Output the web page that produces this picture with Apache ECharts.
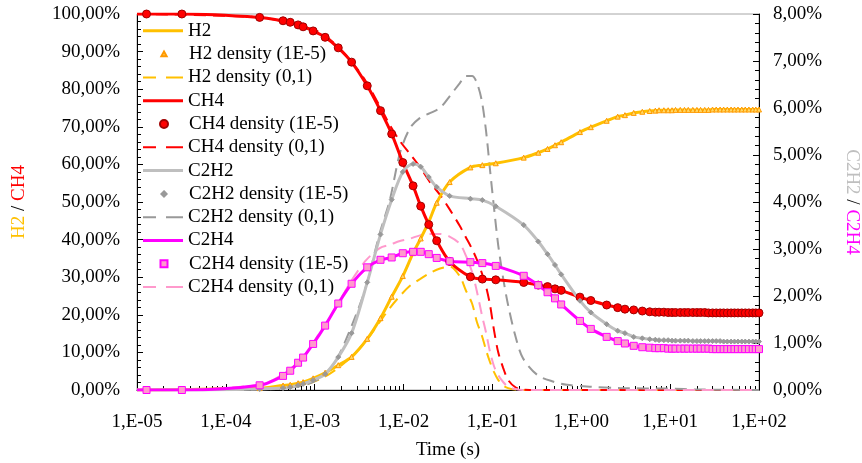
<!DOCTYPE html>
<html>
<head>
<meta charset="utf-8">
<script src="https://cdn.jsdelivr.net/npm/echarts@6/dist/echarts.min.js"></script>
<style>
html, body { margin: 0; padding: 0; background: #fff; }
#chart { width: 862px; height: 463px; }
</style>
</head>
<body>
<div id="chart"></div>
<script>
// time points of the 1E-5 run (s)
var times = [1e-5, 1.28e-5, 3.2e-5, 2.4e-4, 4.4e-4, 5.3e-4, 6.5e-4, 7.4e-4, 9.6e-4, 1.31e-3,
  1.84e-3, 2.6e-3, 3.9e-3, 5.5e-3, 7.35e-3, 9.8e-3, 1.28e-2, 1.56e-2, 1.92e-2, 2.36e-2,
  3.3e-2, 5.65e-2, 7.7e-2, 0.109, 0.225, 0.328, 0.417, 0.506, 0.594, 0.966,
  1.28, 1.93, 2.57, 3.1, 3.89, 4.86, 5.89, 6.81,
  7.5, 8.5, 9.5, 10.5, 11.5, 13, 14.5, 16, 18, 20, 22, 24.5, 27, 30, 33, 36.5, 40, 44, 48.5,
  53, 58, 64, 70, 77, 85, 92, 100];
// left axis (%)
var h2 = [0, 0, 0.1, 0.5, 1.2, 1.4, 1.8, 2.1, 3.1, 4.6,
  6.6, 8.8, 13.6, 19.1, 24.8, 30.3, 36.4, 40.3, 44.7, 49.8,
  55.3, 59.2, 59.8, 60.3, 61.8, 63.1, 64.1, 65.1, 65.9, 68.6,
  69.9, 71.6, 72.7, 73.1, 73.7, 74.0, 74.2, 74.3,
  74.4, 74.4, 74.4, 74.4, 74.5, 74.5, 74.5, 74.5, 74.5, 74.5, 74.5, 74.5, 74.5, 74.6, 74.6, 74.6, 74.6, 74.6, 74.6,
  74.6, 74.6, 74.6, 74.6, 74.6, 74.6, 74.6, 74.6];
var ch4 = [100, 100, 100, 99.1, 98.2, 97.8, 97.1, 96.6, 95.5, 93.8,
  91.0, 87.2, 80.9, 74.3, 68.1, 60.5, 54.3, 48.9, 44.0, 39.7,
  34.2, 30.1, 29.5, 29.3, 28.6, 27.9, 27.5, 26.9, 26.5, 24.7,
  23.8, 22.6, 21.9, 21.5, 21.3, 21.0, 20.8, 20.7,
  20.7, 20.7, 20.6, 20.6, 20.6, 20.6, 20.6, 20.6, 20.6, 20.6, 20.6, 20.6, 20.5, 20.5, 20.5, 20.5, 20.5, 20.5, 20.5,
  20.5, 20.5, 20.5, 20.5, 20.5, 20.5, 20.5, 20.5];
// right axis (%)
var c2h2 = [0, 0, 0, 0.02, 0.04, 0.06, 0.10, 0.13, 0.21, 0.34,
  0.70, 1.21, 2.29, 3.31, 4.05, 4.64, 4.81, 4.75, 4.53, 4.32,
  4.13, 4.07, 4.04, 3.91, 3.51, 3.16, 2.89, 2.66, 2.46, 1.90,
  1.65, 1.40, 1.26, 1.21, 1.13, 1.10, 1.08, 1.07,
  1.06, 1.06, 1.06, 1.05, 1.05, 1.05, 1.05, 1.05, 1.04, 1.04, 1.04, 1.04, 1.04, 1.04, 1.04, 1.04, 1.03, 1.03, 1.03,
  1.03, 1.03, 1.03, 1.03, 1.03, 1.03, 1.03, 1.03];
var c2h4 = [0, 0, 0, 0.10, 0.30, 0.41, 0.58, 0.69, 0.98, 1.37,
  1.84, 2.26, 2.61, 2.77, 2.82, 2.91, 2.94, 2.94, 2.89, 2.81,
  2.74, 2.72, 2.70, 2.64, 2.43, 2.23, 2.08, 1.95, 1.82, 1.47,
  1.30, 1.13, 1.04, 0.99, 0.94, 0.91, 0.90, 0.89,
  0.89, 0.89, 0.88, 0.88, 0.88, 0.88, 0.88, 0.88, 0.88, 0.88, 0.88, 0.88, 0.88, 0.87, 0.87, 0.87, 0.87, 0.87, 0.87,
  0.87, 0.87, 0.87, 0.87, 0.87, 0.87, 0.87, 0.87];

// (0,1) run
var timesCoarse = [1e-5, 2.4e-4, 6.8e-4, 1.15e-3, 1.7e-3, 2.5e-3, 3.7e-3, 5.4e-3, 7e-3, 9.1e-3,
  1.18e-2, 1.53e-2, 1.98e-2, 2.57e-2, 3.33e-2, 4.3e-2, 5e-2, 5.9e-2, 6.7e-2, 7.6e-2,
  8.5e-2, 9.4e-2, 0.104, 0.116, 0.132, 0.15, 0.18, 0.22, 0.32, 0.48,
  0.69, 1.25, 2.7, 9.2, 22, 100];
var h2Coarse = [0, 0.3, 1.1, 2.9, 5.3, 8.5, 12.8, 18.1, 21.8, 25.0,
  27.7, 29.5, 31.1, 32.3, 32.8, 30.2, 26.6, 23.0, 18.0, 14.5,
  10.5, 7.4, 4.8, 2.7, 1.2, 0.5, 0.1, 0, 0, 0,
  0, 0, 0, 0, 0, 0];
var ch4Coarse = [100, 99.1, 96.9, 95.1, 92.0, 87.8, 82.4, 75.5, 70.5, 66.2,
  62.8, 59.3, 55.3, 51.9, 47.9, 43.6, 40.7, 37.5, 34.6, 31.1,
  27.4, 22.6, 16.0, 10.1, 5.9, 2.7, 0.8, 0.1, 0, 0,
  0, 0, 0, 0, 0, 0];
var c2h2Coarse = [0, 0.01, 0.08, 0.25, 0.60, 1.28, 2.15, 3.34, 4.04, 5.04,
  5.57, 5.79, 5.89, 6.0, 6.26, 6.53, 6.68, 6.68, 6.53, 6.15,
  5.49, 4.68, 3.89, 3.09, 2.38, 1.81, 1.17, 0.68, 0.32, 0.18,
  0.11, 0.07, 0.04, 0.03, 0.01, 0];
var c2h4Coarse = [0, 0.11, 0.62, 1.23, 1.72, 2.28, 2.74, 3.02, 3.09, 3.17,
  3.22, 3.29, 3.32, 3.32, 3.26, 3.11, 2.87, 2.51, 2.09, 1.60,
  1.21, 0.81, 0.51, 0.32, 0.17, 0.07, 0.02, 0, 0, 0,
  0, 0, 0, 0, 0, 0];

var legendNames = ["H2", "H2 density (1E-5)", "H2 density (0,1)",
  "CH4", "CH4 density (1E-5)", "CH4 density (0,1)",
  "C2H2", "C2H2 density (1E-5)", "C2H2 density (0,1)",
  "C2H4", "C2H4 density (1E-5)", "C2H4 density (0,1)"];

var FONT = "Liberation Serif";

// legend icons, drawn in a 40x14 box (the two leading moves fix the box)
var BOX = "path://M0,0M40,14";
var ICON_SOLID = BOX + "M0,5.5h40v3h-40z";
var ICON_DASH = BOX + "M0,6h13v2h-13zM23,6h17v2h-17z";
var legendIcons = [
  ICON_SOLID, BOX + "M20,4.5L22.6,9.2L17.4,9.2Z", ICON_DASH,
  ICON_SOLID, BOX + "M24,7A4,4,0,1,1,16,7A4,4,0,1,1,24,7Z", ICON_DASH,
  ICON_SOLID, BOX + "M20,4.4L22.6,7L20,9.6L17.4,7Z", ICON_DASH,
  ICON_SOLID, BOX + "M16.5,3.5h7v7h-7z", ICON_DASH
];

function pts(ts, vs) {
  return ts.map(function (t, i) { return [t, vs[i]]; });
}

function solid(name, vs, color, yIdx) {
  return {
    name: name, type: "line", yAxisIndex: yIdx, data: pts(times, vs),
    symbol: "none", smooth: 0.3, z: 3,
    lineStyle: { color: color, width: 3 }, itemStyle: { color: color }
  };
}
function dots(name, vs, symbol, size, fill, border, yIdx) {
  return {
    name: name, type: "scatter", yAxisIndex: yIdx, data: pts(times.slice(1), vs.slice(1)),
    symbol: symbol, symbolSize: size, clip: false, z: 4,
    itemStyle: { color: fill, borderColor: border, borderWidth: 1, opacity: 1 }
  };
}
function dashed(name, vs, color, yIdx) {
  return {
    name: name, type: "line", yAxisIndex: yIdx, data: pts(timesCoarse, vs),
    symbol: "none", smooth: 0.3, z: 2,
    lineStyle: { color: color, width: 2, type: [12, 7] }, itemStyle: { color: color }
  };
}

var legends = legendNames.map(function (n, i) {
  return {
    data: [{ name: n, icon: legendIcons[i] }],
    left: 143, top: 28.3 + i * 23.3 - 7, itemWidth: 40, itemHeight: 14,
    padding: 0, selectedMode: false,
    textStyle: { fontFamily: FONT, fontSize: 19, color: "#000" }
  };
});

function pct(v) { return v.toFixed(2).replace(".", ",") + "%"; }

var chart = echarts.init(document.getElementById("chart"));
chart.setOption({
  animation: false,
  backgroundColor: "#fff",
  legend: legends,
  grid: {
    left: 137, right: 103, top: 14, bottom: 73, outerBoundsMode: "none",
    show: true, borderColor: "#a6a6a6", borderWidth: 1
  },
  xAxis: {
    type: "log", logBase: 10, min: 1e-5, max: 100, splitNumber: 7,
    name: "Time (s)", nameLocation: "middle", nameGap: 51,
    nameTextStyle: { fontFamily: FONT, fontSize: 19, color: "#000" },
    axisLine: { lineStyle: { color: "#000", width: 1 } },
    axisTick: { inside: true, length: 6, lineStyle: { color: "#000" } },
    minorTick: { show: true, splitNumber: 9, length: 4, lineStyle: { color: "#000" } },
    splitLine: { show: false },
    axisLabel: {
      margin: 23, fontFamily: FONT, fontSize: 19, color: "#000",
      formatter: function (v) {
        var e = Math.round(Math.log10(v));
        var a = Math.abs(e);
        return "1,E" + (e < 0 ? "-" : "+") + (a < 10 ? "0" : "") + a;
      }
    }
  },
  yAxis: [{
    type: "value", min: 0, max: 100, interval: 10, position: "left",
    name: "{a|H2} / {b|CH4}", nameLocation: "middle", nameGap: 108,
    nameTextStyle: {
      fontFamily: FONT, fontSize: 19, color: "#000",
      rich: { a: { color: "#FFC000", fontFamily: FONT, fontSize: 19 }, b: { color: "#FF0000", fontFamily: FONT, fontSize: 19 } }
    },
    axisLine: { show: true, lineStyle: { color: "#000", width: 1 } },
    axisTick: { show: true, inside: true, length: 6, lineStyle: { color: "#000" } },
    minorTick: { show: true, splitNumber: 5, length: 4, lineStyle: { color: "#000" } },
    splitLine: { show: false },
    axisLabel: { margin: 17, fontFamily: FONT, fontSize: 19, color: "#000", formatter: pct }
  }, {
    type: "value", min: 0, max: 8, interval: 1, position: "right",
    name: "{a|C2H2} / {b|C2H4}", nameLocation: "middle", nameGap: 83, nameRotate: -90,
    nameTextStyle: {
      fontFamily: FONT, fontSize: 19, color: "#000",
      rich: { a: { color: "#BFBFBF", fontFamily: FONT, fontSize: 19 }, b: { color: "#FF00FF", fontFamily: FONT, fontSize: 19 } }
    },
    axisLine: { show: true, lineStyle: { color: "#000", width: 1 } },
    axisTick: { show: true, inside: true, length: 6, lineStyle: { color: "#000" } },
    minorTick: { show: true, splitNumber: 5, length: 4, lineStyle: { color: "#000" } },
    splitLine: { show: false },
    axisLabel: { margin: 14, fontFamily: FONT, fontSize: 19, color: "#000", formatter: pct }
  }],
  series: [
    dashed("H2 density (0,1)", h2Coarse, "#FFC000", 0),
    dashed("CH4 density (0,1)", ch4Coarse, "#FF0000", 0),
    dashed("C2H2 density (0,1)", c2h2Coarse, "#999999", 1),
    dashed("C2H4 density (0,1)", c2h4Coarse, "#FF99CC", 1),
    solid("H2", h2, "#FFC000", 0),
    solid("CH4", ch4, "#FF0000", 0),
    solid("C2H2", c2h2, "#BFBFBF", 1),
    solid("C2H4", c2h4, "#FF00FF", 1),
    dots("H2 density (1E-5)", h2, "triangle", 5, "#FFD966", "#FF9900", 0),
    dots("CH4 density (1E-5)", ch4, "circle", 8, "#FF0000", "#A00000", 0),
    dots("C2H2 density (1E-5)", c2h2, "diamond", 5, "#999999", "#999999", 1),
    dots("C2H4 density (1E-5)", c2h4, "rect", 7, "#FF99CC", "#FF00FF", 1)
  ]
});
</script>
</body>
</html>
